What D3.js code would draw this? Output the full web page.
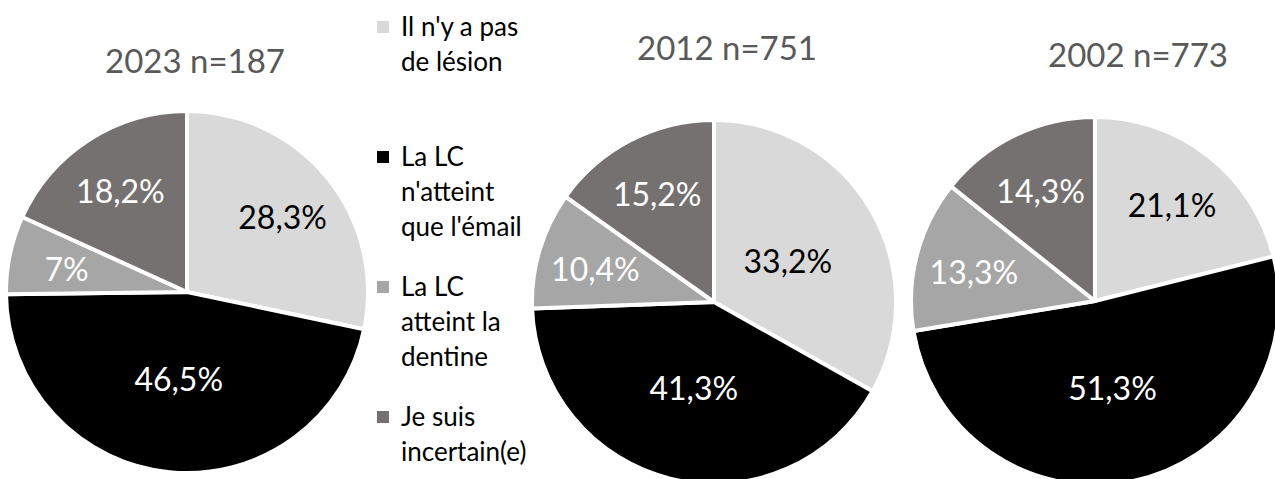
<!DOCTYPE html>
<html>
<head>
<meta charset="utf-8">
<script src="https://cdn.jsdelivr.net/npm/d3@7"></script>
<style>
	html, body { margin: 0; padding: 0; background: #fff; }
	svg text { font-family: Lato, "Open Sans", sans-serif; }
</style>
</head>
<body>
<svg id="chart" width="1275" height="479"></svg>
<script>
// categories in slice order (clockwise from 12 o'clock)
const categories = ["Il n'y a pas de lésion", "La LC n'atteint que l'émail", "La LC atteint la dentine", "Je suis incertain(e)"];
const legendLines = [["Il n'y a pas", "de lésion"], ["La LC", "n'atteint", "que l'émail"], ["La LC", "atteint la", "dentine"], ["Je suis", "incertain(e)"]];
const titles = ["2023 n=187", "2012 n=751", "2002 n=773"];
const values2023 = [28.3, 46.5, 7, 18.2];
const values2012 = [33.2, 41.3, 10.4, 15.2];
const values2002 = [21.1, 51.3, 13.3, 14.3];
const seriesValues = [values2023, values2012, values2002];

const sliceColors = ["#d9d9d9", "#000000", "#a6a6a6", "#767171"];
const labelColors = ["#000000", "#ffffff", "#ffffff", "#ffffff"];

// layout of the three pies (centre, radius, title position)
const layout = [
	{cx: 187, cy: 292, r: 181, tx: 195, ty: 73},
	{cx: 714, cy: 302, r: 182, tx: 727, ty: 60},
	{cx: 1095, cy: 301, r: 184, tx: 1138, ty: 67}
];

var svg = d3.select("#chart");
var color = d3.scaleOrdinal().domain(categories).range(sliceColors);
var textColor = d3.scaleOrdinal().domain(categories).range(labelColors);

var pie = d3.pie().sort(null).value(function(d) { return d.value; });

function fmt(v) {
	return String(v).replace(".", ",") + "%";
}

seriesValues.forEach(function(vals, i) {
	var L = layout[i];
	var data = vals.map(function(v, k) { return {cat: categories[k], value: v}; });
	var total = d3.sum(vals);
	var arc = d3.arc().innerRadius(0).outerRadius(L.r);

	var g = svg.append("g")
		.attr("transform", "translate(" + L.cx + "," + L.cy + ")");

	var arcs = pie(data);

	g.selectAll("path")
		.data(arcs)
		.enter().append("path")
		.attr("d", arc)
		.attr("fill", function(d) { return color(d.data.cat); })
		.attr("stroke", "#fff")
		.attr("stroke-width", 4)
		.attr("stroke-linejoin", "round");

	// big slices get their label nearer the centre (like excel best fit)
	g.selectAll("text.lbl")
		.data(arcs)
		.enter().append("text")
		.attr("class", "lbl")
		.attr("transform", function(d) {
			var f = d.data.value / total >= 0.3 ? 0.47 : 0.68;
			var la = d3.arc().innerRadius(L.r * f).outerRadius(L.r * f);
			var c = la.centroid(d);
			return "translate(" + c[0] + "," + c[1] + ")";
		})
		.attr("text-anchor", "middle")
		.attr("dy", "0.45em")
		.attr("font-size", 32)
		.attr("fill", function(d) { return textColor(d.data.cat); })
		.text(function(d) { return fmt(d.data.value); });

	svg.append("text")
		.attr("x", L.tx)
		.attr("y", L.ty)
		.attr("text-anchor", "middle")
		.attr("font-size", 33)
		.attr("fill", "#595959")
		.text(titles[i]);
});

// legend
var legend = svg.append("g").attr("transform", "translate(377,21)");
var item = legend.selectAll("g.item")
	.data(categories)
	.enter().append("g")
	.attr("class", "item")
	.attr("transform", function(d, i) { return "translate(0," + (i * 130) + ")"; });

item.append("rect")
	.attr("width", 12)
	.attr("height", 12)
	.attr("fill", function(d) { return color(d); });

item.each(function(d, i) {
	var t = d3.select(this).append("text")
		.attr("x", 24)
		.attr("y", 15)
		.attr("font-size", 26)
		.attr("fill", "#000");
	legendLines[i].forEach(function(line, k) {
		t.append("tspan")
			.attr("x", 24)
			.attr("dy", k === 0 ? 0 : 35)
			.text(line);
	});
});
</script>
</body>
</html>
